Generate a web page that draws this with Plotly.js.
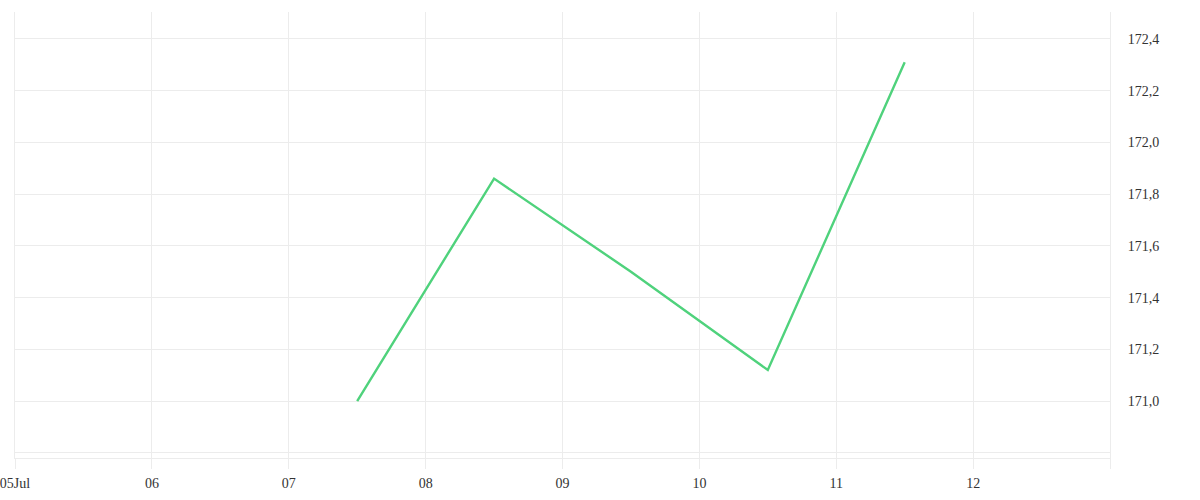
<!DOCTYPE html>
<html>
<head>
<meta charset="utf-8">
<script src="https://cdn.plot.ly/plotly-3.0.1.min.js"></script>
<style>
  html, body { margin: 0; padding: 0; background: #fff; }
  #chart { width: 1200px; height: 500px; }
</style>
</head>
<body>
<div id="chart"></div>
<script>
// price series, one point per day at midday
const dates = ['2024-07-07 12:00', '2024-07-08 12:00', '2024-07-09 12:00', '2024-07-10 12:00', '2024-07-11 12:00'];
const prices = [171.0, 171.86, 171.5, 171.12, 172.31];

// axis ticks
const xTicks = ['2024-07-05', '2024-07-06', '2024-07-07', '2024-07-08', '2024-07-09', '2024-07-10', '2024-07-11', '2024-07-12', '2024-07-13'];
const xLabels = ['05Jul', '06', '07', '08', '09', '10', '11', '12', ''];
const yTicks = [170.8, 171.0, 171.2, 171.4, 171.6, 171.8, 172.0, 172.2, 172.4];
const yLabels = ['', '171,0', '171,2', '171,4', '171,6', '171,8', '172,0', '172,2', '172,4'];

const grid = '#ececec';

const data = [
    {
        x: dates,
        y: prices,
        type: 'scatter',
        mode: 'lines',
        line: { color: '#4fd27c', width: 2.4 },
        hoverinfo: 'skip'
    }
];

const layout = {
    width: 1200,
    height: 500,
    showlegend: false,
    paper_bgcolor: '#fff',
    plot_bgcolor: '#fff',
    font: { family: 'Liberation Serif, serif', size: 14, color: '#333' },
    margin: { l: 15, r: 90, t: 12, b: 42, pad: 0 },
    xaxis: {
        type: 'date',
        range: ['2024-07-05', '2024-07-13'],
        tickvals: xTicks,
        ticktext: xLabels,
        ticklabeloverflow: 'allow',
        ticklabelstandoff: 2,
        showgrid: true,
        gridcolor: grid,
        ticks: 'outside',
        ticklen: 10,
        tickcolor: grid,
        showline: true,
        linecolor: grid,
        linewidth: 1,
        zeroline: false
    },
    yaxis: {
        side: 'right',
        range: [170.78, 172.504],
        tickvals: yTicks,
        ticktext: yLabels,
        showgrid: true,
        gridcolor: grid,
        ticks: '',
        ticklabelstandoff: 14,
        showline: true,
        mirror: true,
        linecolor: grid,
        linewidth: 1,
        zeroline: false
    }
};

Plotly.newPlot('chart', data, layout, { displayModeBar: false, staticPlot: true });
</script>
</body>
</html>
